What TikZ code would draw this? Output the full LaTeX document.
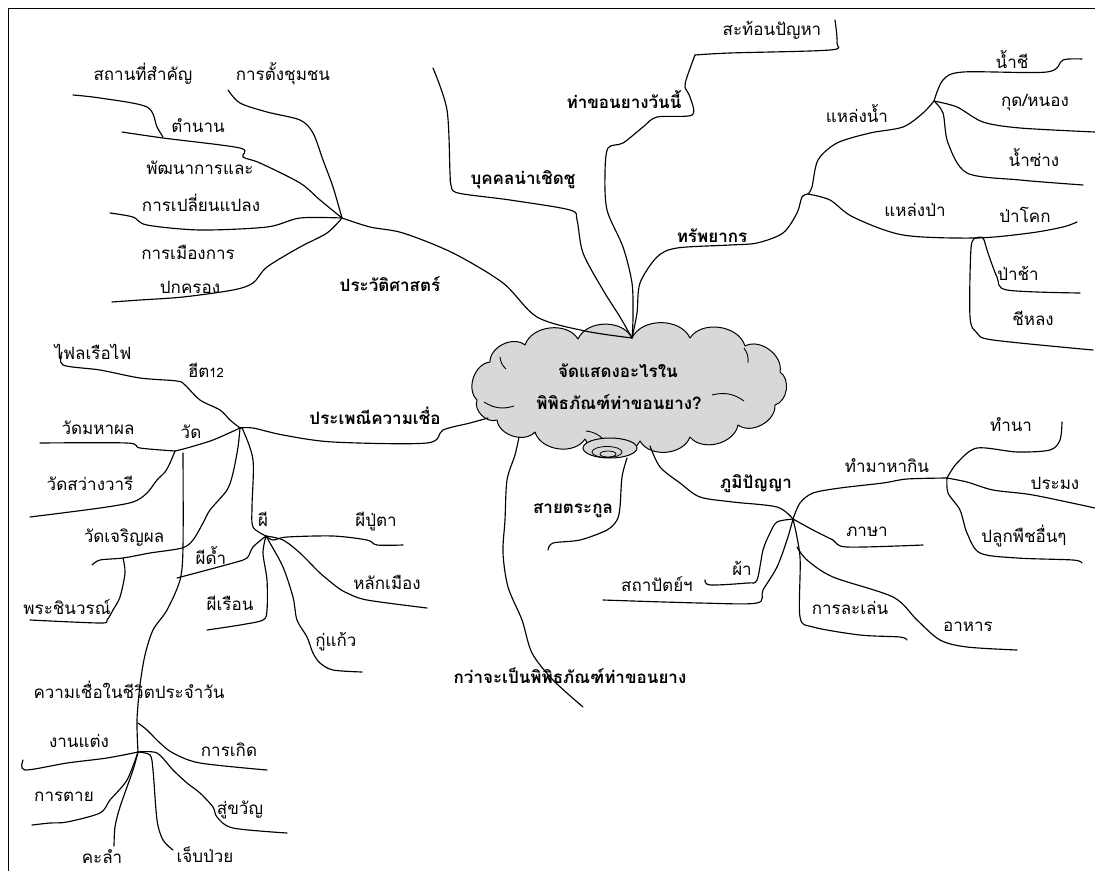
\documentclass[tikz,border=0pt]{standalone}
\usepackage{fontspec}
\newfontfamily\thai[Script=Thai]{Loma}
\definecolor{cloudgray}{RGB}{216,216,216}
\begin{document}
\begin{tikzpicture}[x=1pt,y=-1pt,
  br/.style={line width=1.15pt, line cap=round, line join=round},
  lb/.style={font=\thai\fontsize{17}{19}\selectfont, inner sep=0pt},
  mlb/.style={font=\thai\bfseries\fontsize{17}{19}\selectfont, inner sep=0pt},
  sm/.style={smooth, tension=0.5},
  puff/.style={bend left=65}
]
\useasboundingbox (0,0) rectangle (1095,871);
\draw[line width=1pt] (8,871) -- (8,8) -- (1095,8);

% cloud
\coordinate (cA) at (477,400);
\coordinate (cB) at (490,362);
\coordinate (cC) at (525,345);
\coordinate (cD) at (578,339);
\coordinate (cE) at (632,338);
\coordinate (cF) at (690,338);
\coordinate (cG) at (745,346);
\coordinate (cH) at (780,372);
\coordinate (cI) at (775,405);
\coordinate (cJ) at (738,425);
\coordinate (cK) at (690,437);
\coordinate (cL) at (640,441);
\coordinate (cM) at (585,439);
\coordinate (cN) at (535,432);
\coordinate (cO) at (497,420);
\draw[line width=1pt, fill=cloudgray, line join=round]
  (cA) to[puff] (cB) to[puff] (cC) to[puff] (cD) to[puff] (cE) to[puff] (cF)
  to[puff] (cG) to[puff] (cH) to[puff] (cI) to[puff] (cJ) to[puff] (cK)
  to[puff] (cL) to[puff] (cM) to[puff] (cN) to[puff] (cO) to[puff] (cA) -- cycle;
\draw[line width=0.9pt] (484,402) to[bend right=25] (514,406);
\draw[line width=0.9pt] (586,431) to[bend left=20] (604,440);
\draw[line width=0.9pt] (712,395) to[bend left=25] (744,401);
\draw[line width=0.9pt] (744,348) to[bend left=20] (748,363);
\draw[line width=0.9pt] (500,357) to[bend right=20] (506,369);
\node[mlb] (ct1) at (618,371) {จัดแสดงอะไรใน};
\node[mlb] (ct2) at (619,402) {พิพิธภัณฑ์ท่าขอนยาง?};
\draw[line width=1pt, fill=cloudgray] (610,448) ellipse [x radius=27, y radius=10];
\draw[line width=0.8pt] (607,452) ellipse [x radius=15, y radius=5.5];
\draw[line width=0.8pt] (608,454) ellipse [x radius=8, y radius=3];

% hubs
\coordinate (ctop) at (632,338);
\coordinate (cleft) at (488,418);
\coordinate (hist) at (342,218);
\coordinate (corner) at (695,55);
\coordinate (res) at (808,194);
\coordinate (wat) at (934,101);
\coordinate (forest) at (976,238);
\coordinate (trad) at (240,428);
\coordinate (temple) at (175,451);
\coordinate (ghost) at (266,536);
\coordinate (belief) at (138,752);
\coordinate (wis) at (793,519);
\coordinate (earn) at (947,478);

% labels
\node[mlb] (lhist) at (390,284) {ประวัติศาสตร์};
\node[mlb] (lperson) at (523,180) {บุคคลน่าเชิดชู};
\node[mlb] (ltoday) at (624,100) {ท่าขอนยางวันนี้};
\node[lb] (lrefl) at (772,30) {สะท้อนปัญหา};
\node[mlb] (lres) at (712,236) {ทรัพยากร};
\node[lb] (lwat) at (857,114) {แหล่งน้ำ};
\node[lb] (lchi) at (1012,60) {น้ำชี};
\node[lb] (lkud) at (1035,103) {กุด/หนอง};
\node[lb] (lsang) at (1034,158) {น้ำซ่าง};
\node[lb] (lfor) at (915,210) {แหล่งป่า};
\node[lb] (lkok) at (1025,215) {ป่าโคก};
\node[lb] (lcha) at (1018,273) {ป่าช้า};
\node[lb] (lchil) at (1033,318) {ชีหลง};
\node[lb] (lsettle) at (283,74) {การตั้งชุมชน};
\node[lb] (lplace) at (143,74) {สถานที่สำคัญ};
\node[lb] (lleg) at (198,126) {ตำนาน};
\node[lb] (ldev1) at (200,168) {พัฒนาการและ};
\node[lb] (ldev2) at (201,203) {การเปลี่ยนแปลง};
\node[lb] (lpol1) at (188,252) {การเมืองการ};
\node[lb] (lpol2) at (190,287) {ปกครอง};
\node[mlb] (ltrad) at (375,416) {ประเพณีความเชื่อ};
\node[lb] (lheet) at (206,370) {ฮีต{\fontsize{13}{15}\selectfont 12}};
\node[lb] (lfire) at (93,352) {ไฟลเรือไฟ};
\node[lb] (ltemple) at (191,432) {วัด};
\node[lb] (lmaha) at (98,428) {วัดมหาผล};
\node[lb] (lsawang) at (90,483) {วัดสว่างวารี};
\node[lb] (ljarern) at (124,538) {วัดเจริญผล};
\node[lb] (lbuddha) at (67,607) {พระชินวรณ์};
\node[lb] (lghost) at (263,519) {ผี};
\node[lb] (ldam) at (211,555) {ผีด้ำ};
\node[lb] (lputa) at (376,522) {ผีปู่ตา};
\node[lb] (lpillar) at (387,582) {หลักเมือง};
\node[lb] (lhouse) at (230,603) {ผีเรือน};
\node[lb] (lkukaew) at (336,642) {กู่แก้ว};
\node[lb] (lbelief) at (129,690) {ความเชื่อในชีวิตประจำวัน};
\node[lb] (lwed) at (79,741) {งานแต่ง};
\node[lb] (lbirth) at (229,750) {การเกิด};
\node[lb] (lkwan) at (240,810) {สู่ขวัญ};
\node[lb] (ldeath) at (64,797) {การตาย};
\node[lb] (lsick) at (205,855) {เจ็บป่วย};
\node[lb] (ltaboo) at (102,857) {คะลำ};
\node[mlb] (lfam) at (573,511) {สายตระกูล};
\node[mlb] (lmuseum) at (570,676) {กว่าจะเป็นพิพิธภัณฑ์ท่าขอนยาง};
\node[mlb] (lwis) at (756,484) {ภูมิปัญญา};
\node[lb] (learn) at (887,466) {ทำมาหากิน};
\node[lb] (lrice) at (1011,425) {ทำนา};
\node[lb] (lfish) at (1055,483) {ประมง};
\node[lb] (lcrop) at (1024,536) {ปลูกพืชอื่นๆ};
\node[lb] (llang) at (867,532) {ภาษา};
\node[lb] (lcloth) at (742,568) {ผ้า};
\node[lb] (larch) at (657,584) {สถาปัตย์ฯ};
\node[lb] (lplay) at (850,608) {การละเล่น};
\node[lb] (lfood) at (968,627) {อาหาร};

% top branches
\draw[br] plot[sm] coordinates {(hist) (370,227) (403,233) (453,253) (503,283) (537,317) (585,331) (ctop)};
\draw[br] plot[sm] coordinates {(433,68) (447,110) (450,173) (451,185) (458,193) (510,200) (570,210) (577,220) (583,253) (603,290) (620,317) (ctop)};
\draw[br] plot[sm] coordinates {(ctop) (633,317) (632,283) (623,247) (607,210) (605,173) (608,148) (623,143) (643,127) (657,117) (692,115) (690,97) (685,87) (687,77) (corner)};
\draw[br] plot[sm] coordinates {(corner) (730,53) (830,50) (837,43) (835,20)};
\draw[br] plot[sm] coordinates {(ctop) (637,313) (640,283) (657,257) (677,248) (730,245) (757,243) (783,233) (797,213) (802,197) (res)};
\draw[br] plot[sm] coordinates {(res) (812,187) (818,160) (837,143) (870,133) (903,127) (923,113) (wat)};
\draw[br] plot[sm] coordinates {(wat) (943,80) (963,72) (1047,72) (1063,60) (1082,59)};
\draw[br] plot[sm] coordinates {(wat) (957,107) (983,122) (1020,128) (1095,132)};
\draw[br] plot[sm] coordinates {(wat) (943,113) (948,143) (967,173) (1020,180) (1083,185)};
\draw[br] plot[sm] coordinates {(res) (830,200) (853,217) (903,235) (forest) (1030,233) (1063,227) (1077,222)};
\draw[br] plot[sm] coordinates {(forest) (983,238) (988,253) (997,277) (1007,290) (1080,293)};
\draw[br] plot[sm] coordinates {(forest) (971,248) (970,317) (977,333) (993,340) (1093,350)};

% history
\draw[br] plot[sm] coordinates {(228,90) (240,103) (267,112) (300,120) (313,133) (323,160) (333,187) (hist)};
\draw[br] plot[sm] coordinates {(73,95) (100,98) (147,107) (157,127) (163,137)};
\draw[br] plot[sm] coordinates {(122,132) (163,138) (240,148) (243,157) (260,163) (300,183) (320,200) (hist)};
\draw[br] plot[sm] coordinates {(110,213) (133,217) (147,225) (200,230) (267,227) (300,218) (hist)};
\draw[br] plot[sm] coordinates {(112,302) (140,300) (183,297) (233,290) (253,283) (267,267) (300,247) (327,233) (hist)};

% tradition
\draw[br] plot[sm] coordinates {(trad) (253,428) (283,435) (333,442) (427,443) (443,430) (470,423) (cleft)};
\draw[br] plot[sm] coordinates {(62,352) (63,365) (100,370) (140,378) (177,381) (185,385) (200,400) (220,410) (230,420) (trad)};
\draw[br] plot[sm] coordinates {(trad) (213,440) (187,448) (temple)};
\draw[br] plot[sm] coordinates {(40,443) (127,443) (140,448) (temple)};
\draw[br] plot[sm] coordinates {(temple) (170,463) (165,472) (157,480) (147,493) (133,502) (100,508) (30,517)};
\draw[br] plot[sm] coordinates {(183,453) (183,547) (180,580) (167,610) (153,630) (145,655) (140,685) (137,720) (belief)};
\draw[br] plot[sm] coordinates {(92,565) (100,560) (123,558) (150,553) (182,548) (193,540) (203,523) (210,510) (227,490) (233,473) (238,447) (trad)};
\draw[br] plot[sm] coordinates {(123,558) (125,573) (120,597) (113,610) (107,620) (100,623) (30,620)};
\draw[br] plot[sm] coordinates {(trad) (243,430) (253,460) (252,507) (253,527) (ghost)};
\draw[br] plot[sm] coordinates {(ghost) (253,547) (247,558) (233,563) (177,578)};
\draw[br] plot[sm] coordinates {(ghost) (273,540) (287,537) (333,536) (367,540) (377,545) (403,545)};
\draw[br] plot[sm] coordinates {(ghost) (283,540) (300,553) (320,573) (337,587) (347,593) (367,600) (427,608)};
\draw[br] plot[sm] coordinates {(ghost) (263,553) (267,580) (267,610) (263,620) (240,625) (207,630)};
\draw[br] plot[sm] coordinates {(ghost) (270,543) (283,567) (293,597) (297,620) (307,637) (313,653) (320,663) (333,670) (362,672)};

% daily beliefs
\draw[br] plot[sm] coordinates {(belief) (107,758) (67,763) (25,770) (23,760)};
\draw[br] plot[sm] coordinates {(138,723) (147,730) (160,743) (173,753) (200,763) (267,770)};
\draw[br] plot[sm] coordinates {(belief) (157,753) (173,770) (187,783) (200,793) (213,807) (217,817) (233,828) (287,833)};
\draw[br] plot[sm] coordinates {(belief) (150,755) (153,770) (157,820) (163,840) (173,850)};
\draw[br] plot[sm] coordinates {(belief) (127,780) (110,800) (100,813) (67,822) (50,823) (32,825)};
\draw[br] plot[sm] coordinates {(belief) (133,770) (120,807) (115,827) (114,846)};

% below cloud
\draw[br] plot[sm] coordinates {(627,458) (622,477) (620,507) (617,520) (607,530) (580,540) (553,543) (548,550)};
\draw[br] plot[sm] coordinates {(519,437) (515,455) (507,480) (505,520) (503,553) (508,587) (522,620) (532,653) (553,680) (583,707)};
\draw[br] plot[sm] coordinates {(650,446) (660,467) (680,483) (700,497) (733,502) (777,507) (wis)};
\draw[br] plot[sm] coordinates {(wis) (800,503) (813,493) (840,488) (883,483) (907,479) (earn)};
\draw[br] plot[sm] coordinates {(earn) (957,463) (977,448) (1017,452) (1050,450) (1060,440) (1062,422)};
\draw[br] plot[sm] coordinates {(earn) (967,482) (993,490) (1033,495) (1095,508)};
\draw[br] plot[sm] coordinates {(earn) (948,493) (960,510) (967,533) (980,553) (1017,558) (1073,560) (1082,563)};
\draw[br] plot[sm] coordinates {(wis) (813,530) (833,540) (847,547) (923,545)};
\draw[br] plot[sm] coordinates {(wis) (777,522) (770,533) (763,550) (757,580) (747,583) (710,585) (705,580)};
\draw[br] plot[sm] coordinates {(wis) (787,540) (777,567) (763,590) (757,603) (700,603) (603,600)};
\draw[br] plot[sm] coordinates {(wis) (800,557) (800,617) (813,627) (860,635) (900,637) (907,640)};
\draw[br] plot[sm] coordinates {(797,547) (807,560) (833,577) (893,597) (917,620) (940,640) (967,647) (1017,650)};
\end{tikzpicture}
\end{document}
